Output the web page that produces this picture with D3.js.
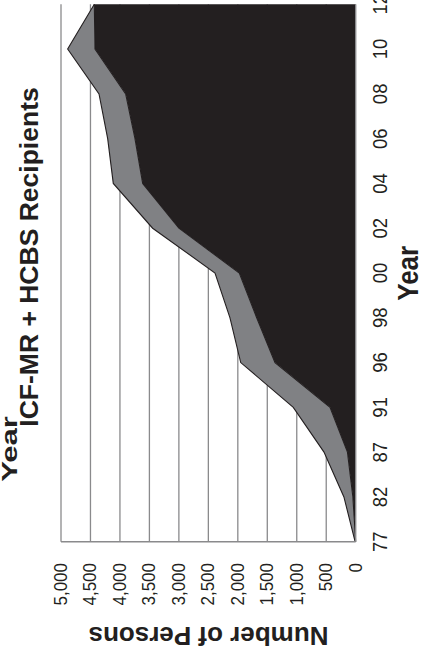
<!DOCTYPE html>
<html>
<head>
<meta charset="utf-8">
<script src="https://cdn.jsdelivr.net/npm/d3@7/dist/d3.min.js"></script>
<style>
  html, body { margin: 0; padding: 0; background: #fff; overflow: hidden; }
  svg { display: block; }
  text { font-family: "Liberation Sans", Arial, Helvetica, sans-serif; fill: #231f20; }
</style>
</head>
<body>
<script>
// ---- data ----
const years = ["77", "82", "87", "91", "96", "98", "00", "02", "04", "06", "08", "10", "12"];
const blackValues = [0, 48, 140, 436, 1369, 1680, 1975, 3000, 3614, 3745, 3903, 4423, 4435];
const totalValues = [10, 200, 538, 1059, 1951, 2133, 2387, 3445, 4113, 4208, 4355, 4887, 4435];
const valueTicks = [0, 500, 1000, 1500, 2000, 2500, 3000, 3500, 4000, 4500, 5000];
const title = "ICF-MR + HCBS Recipients";
const xTitle = "Year";
const yTitle = "Number of Persons";

const rows = years.map((y, i) => ({ year: y, black: blackValues[i], gray: totalValues[i] - blackValues[i] }));

const W = 436, H = 654;
const svg = d3.select("body").append("svg").attr("width", W).attr("height", H);

// value axis runs right-to-left, years run bottom-to-top (rotated chart)
const xVal = d3.scaleLinear().domain([0, 5000]).range([355.7, 61]);
const yYear = d3.scalePoint().domain(years).range([541.7, 4.3]);

const gridColor = "#8a8a8c";

// gridlines
svg.append("g").selectAll("line").data(valueTicks.filter(v => v > 0)).join("line")
  .attr("x1", d => xVal(d)).attr("x2", d => xVal(d))
  .attr("y1", yYear.range()[1]).attr("y2", yYear.range()[0])
  .attr("stroke", gridColor).attr("stroke-width", 1.3);

// stacked areas
const stack = d3.stack().keys(["black", "gray"]);
const series = stack(rows);
const colors = { black: "#231f20", gray: "#808184" };
const area = d3.area()
  .y(d => yYear(d.data.year))
  .x0(d => xVal(d[0]))
  .x1(d => xVal(d[1]));
svg.append("g").selectAll("path").data(series).join("path")
  .attr("d", area)
  .attr("fill", d => colors[d.key]);

// outlines
const edge = d3.line().y(d => yYear(d.data.year)).x(d => xVal(d[1]));
svg.append("g").selectAll("path").data(series).join("path")
  .attr("d", edge)
  .attr("fill", "none")
  .attr("stroke", "#231f20")
  .attr("stroke-width", 1.1);

// axis lines
svg.append("line")
  .attr("x1", xVal(0)).attr("x2", xVal(0))
  .attr("y1", yYear.range()[1]).attr("y2", yYear.range()[0])
  .attr("stroke", gridColor).attr("stroke-width", 1.4);
svg.append("line")
  .attr("x1", xVal(5000)).attr("x2", xVal(0))
  .attr("y1", yYear.range()[0]).attr("y2", yYear.range()[0])
  .attr("stroke", gridColor).attr("stroke-width", 1.4);

// value tick labels (rotated)
const fmt = d3.format(",");
svg.append("g").selectAll("text").data(valueTicks).join("text")
  .attr("transform", d => `translate(${xVal(d) + 6},563) rotate(-90) scale(1,1.12)`)
  .attr("text-anchor", "end")
  .attr("font-size", 17)
  .text(d => fmt(d));

// year labels (rotated)
svg.append("g").selectAll("text").data(years).join("text")
  .attr("transform", d => `translate(386.8,${yYear(d)}) rotate(-90) scale(1,1.12)`)
  .attr("text-anchor", "middle")
  .attr("font-size", 18.5)
  .text(d => d);

// axis titles
svg.append("text")
  .attr("transform", `translate(417.5,273.3) rotate(-90) scale(1,1.1)`)
  .attr("text-anchor", "middle")
  .attr("font-size", 26).attr("font-weight", "bold")
  .text(xTitle);

svg.append("text")
  .attr("transform", `translate(208.5,627.3) rotate(180)`)
  .attr("text-anchor", "middle")
  .attr("font-size", 26).attr("font-weight", "bold")
  .text(yTitle);

// chart title
svg.append("text")
  .attr("transform", `translate(38.3,257) rotate(-90)`)
  .attr("text-anchor", "middle")
  .attr("font-size", 26.5).attr("font-weight", "bold")
  .text(title);

// stray "Year" label at far left
svg.append("text")
  .attr("transform", `translate(17,481.7) rotate(-90) scale(1,0.7)`)
  .attr("text-anchor", "start")
  .attr("font-size", 31).attr("font-weight", "bold")
  .text(xTitle);
</script>
</body>
</html>
